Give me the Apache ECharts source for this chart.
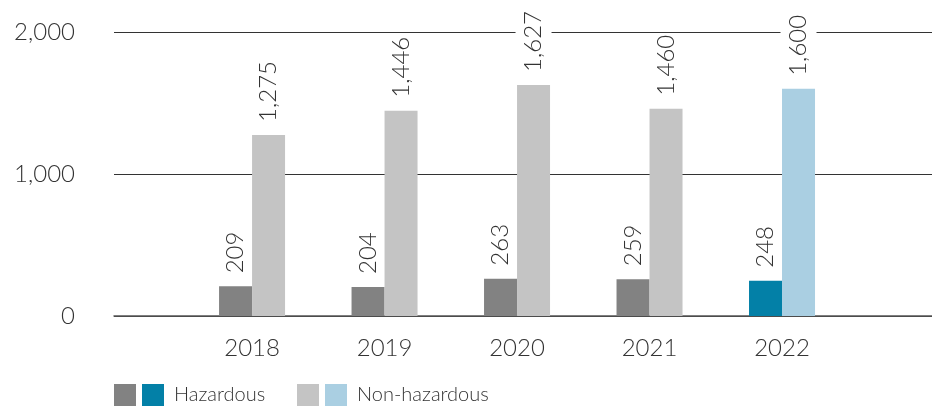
<!DOCTYPE html>
<html>
<head>
<meta charset="utf-8">
<script src="https://cdn.jsdelivr.net/npm/echarts@6/dist/echarts.min.js"></script>
<style>
html,body{margin:0;padding:0;background:#fff;}
#chart{width:932px;height:408px;}
</style>
</head>
<body>
<div id="chart"></div>
<script>
// ---- data ----
const years = ['2018', '2019', '2020', '2021', '2022'];
const hazardous = [209, 204, 263, 259, 248];
const nonHazardous = [1275, 1446, 1627, 1460, 1600];
const yTicks = [0, 1000, 2000];
const highlightYear = '2022';

// ---- build ----
const hi = years.indexOf(highlightYear);
const slots = years.map((y, i) => i + 1);            // category slot positions on the x scale
function pick(arr, wantHi) {
  const out = [];
  arr.forEach((v, i) => { if ((i === hi) === wantHi) out.push([slots[i], v]); });
  return out;
}
const FONT = 'Lato';
const TXT = '#333333';
const fmt = v => Number(v).toLocaleString('en-US');

function labelOpt(withBg) {
  const o = {
    show: true,
    position: 'top',
    rotate: 90,
    align: 'left',
    verticalAlign: 'middle',
    distance: 13,
    fontFamily: FONT,
    fontWeight: 300,
    fontSize: 24,
    color: TXT,
    formatter: p => fmt(p.value[1])
  };
  if (withBg) { o.backgroundColor = '#ffffff'; o.padding = [6, 0, 6, 0]; }
  return o;
}

function barSeries(name, stack, data, color, withBg) {
  return {
    name: name,
    type: 'bar',
    stack: stack,
    data: data,
    barWidth: 33,
    barGap: '0%',
    itemStyle: { color: color },
    label: labelOpt(withBg),
    emphasis: { disabled: true },
    z: 2
  };
}

function legendAt(left, name, showText) {
  return {
    left: left,
    top: 384,
    padding: 0,
    itemWidth: 22,
    itemHeight: 22,
    icon: 'rect',
    selectedMode: false,
    data: [name],
    formatter: n => (showText ? n.trim() : ''),
    textStyle: { fontFamily: FONT, fontWeight: 300, fontSize: 20, color: TXT, padding: [0, 0, 0, 5] }
  };
}

const chart = echarts.init(document.getElementById('chart'), null, { renderer: 'canvas' });
chart.setOption({
  animation: false,
  backgroundColor: '#ffffff',
  grid: { left: 114, right: 0, top: 32, bottom: 92, containLabel: false },
  legend: [
    legendAt(114, 'Hazardous ', false),
    legendAt(142, 'Hazardous', true),
    legendAt(297, 'Non-hazardous ', false),
    legendAt(325, 'Non-hazardous', true)
  ],
  xAxis: {
    type: 'value',
    min: -0.042,
    max: 6.132,
    axisLine: { show: true, onZero: false, lineStyle: { color: '#555555', width: 1.5 } },
    axisTick: { show: false },
    splitLine: { show: false },
    axisLabel: {
      customValues: slots,
      fontFamily: FONT, fontWeight: 300, fontSize: 24, color: TXT, margin: 20,
      formatter: v => years[Math.round(v) - 1] || ''
    }
  },
  yAxis: {
    type: 'value',
    min: yTicks[0],
    max: yTicks[yTicks.length - 1],
    interval: yTicks[1] - yTicks[0],
    axisLine: { show: false },
    axisTick: { show: false },
    splitLine: { lineStyle: { color: '#333333', width: 1 } },
    axisLabel: { fontFamily: FONT, fontWeight: 300, fontSize: 24, color: TXT, margin: 39, formatter: v => fmt(v) }
  },
  series: [
    barSeries('Hazardous ', 'h', pick(hazardous, false), '#828282', false),
    barSeries('Hazardous', 'h', pick(hazardous, true), '#0380a7', false),
    barSeries('Non-hazardous ', 'n', pick(nonHazardous, false), '#c4c4c4', true),
    barSeries('Non-hazardous', 'n', pick(nonHazardous, true), '#aacfe2', true)
  ]
});
</script>
</body>
</html>
